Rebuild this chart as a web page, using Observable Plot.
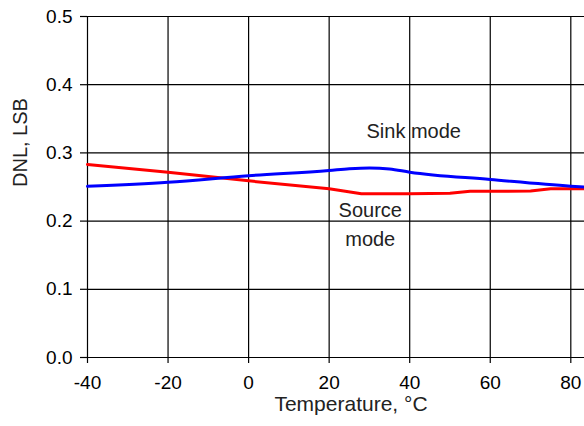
<!DOCTYPE html>
<html>
<head>
<meta charset="utf-8">
<script src="https://cdn.jsdelivr.net/npm/d3@7"></script>
<script src="https://cdn.jsdelivr.net/npm/@observablehq/plot@0.6"></script>
<style>
  html, body { margin: 0; padding: 0; background: #fff; }
  #chart svg { display: block; }
</style>
</head>
<body>
<div id="chart"></div>
<script>
// Temperature (°C) and DNL (LSB)
const sinkTemp   = [-40, -20, 0, 20, 25, 30, 35, 40, 60, 80, 85];
const sinkDNL    = [0.251, 0.257, 0.2665, 0.2742, 0.2768, 0.278, 0.2765, 0.2717, 0.261, 0.2512, 0.2495];
const sourceTemp = [-40, -20, 0, 20, 28, 40, 50, 55, 70, 75, 85];
const sourceDNL  = [0.283, 0.2717, 0.259, 0.2473, 0.240, 0.240, 0.241, 0.2438, 0.244, 0.2473, 0.2473];

const xTicks = [-40, -20, 0, 20, 40, 60, 80];
const yTicks = [0, 0.1, 0.2, 0.3, 0.4, 0.5];
const xTitle = "Temperature, °C";
const yTitle = "DNL, LSB";

const labelText = ["Sink mode", "Source\nmode"];
const labelTemp = [41, 30.2];
const labelDNL  = [0.335, 0.199];

const sink = sinkTemp.map((t, i) => ({t, v: sinkDNL[i]}));
const source = sourceTemp.map((t, i) => ({t, v: sourceDNL[i]}));
const labels = labelText.map((s, i) => ({s, t: labelTemp[i], v: labelDNL[i]}));

const font = "'Liberation Sans', Arial, sans-serif";

const chart = Plot.plot({
  width: 584,
  height: 426,
  marginLeft: 87,
  marginRight: 0,
  marginTop: 16,
  marginBottom: 69,
  style: {fontFamily: font, fontSize: "19px", color: "#000", background: "#fff"},
  x: {domain: [-40, 83.4], ticks: xTicks},
  y: {domain: [0, 0.5], ticks: yTicks},
  marks: [
    Plot.gridX(xTicks, {stroke: "#000", strokeOpacity: 1, strokeWidth: 1.2}),
    Plot.gridY(yTicks, {stroke: "#000", strokeOpacity: 1, strokeWidth: 1.2}),
    Plot.axisX(xTicks, {tickSize: 6, tickPadding: 12, tickFormat: d => String(d), label: null, stroke: "#000", strokeWidth: 1.2, fontSize: 19}),
    Plot.axisY(yTicks, {tickSize: 7, tickPadding: 8, tickFormat: d3.format(".1f"), label: null, stroke: "#000", strokeWidth: 1.2, fontSize: 19}),
    Plot.line(source, {x: "t", y: "v", stroke: "#ff0000", strokeWidth: 3}),
    Plot.line(sink, {x: "t", y: "v", stroke: "#0000ff", strokeWidth: 3, curve: "monotone-x"}),
    Plot.text(labels, {x: "t", y: "v", text: "s", fontSize: 20, fill: "#222", lineHeight: 1.45}),
    Plot.text([xTitle], {frameAnchor: "bottom", dx: 15, dy: 53, fontSize: 21, fill: "#222"}),
    Plot.text([yTitle], {frameAnchor: "left", dx: -67, rotate: -90, fontSize: 20, fill: "#222"})
  ]
});
document.getElementById("chart").appendChild(chart);
</script>
</body>
</html>
